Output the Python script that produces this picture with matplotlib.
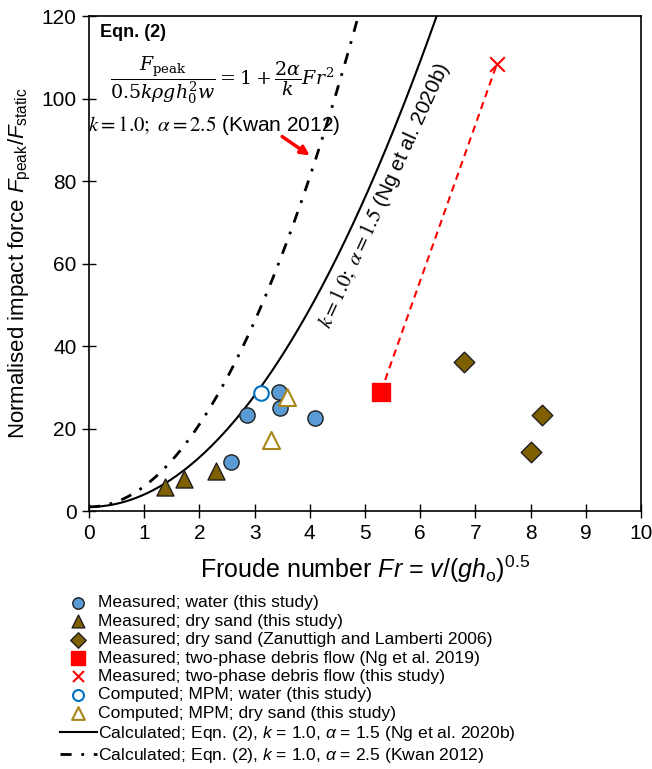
import numpy as np
import matplotlib
matplotlib.use('Agg')
import matplotlib.pyplot as plt
from matplotlib.lines import Line2D

plt.rcParams['font.family'] = ['Liberation Sans', 'DejaVu Sans']
plt.rcParams['mathtext.fontset'] = 'custom'
plt.rcParams['mathtext.rm'] = 'Liberation Sans'
plt.rcParams['mathtext.it'] = 'Liberation Sans:italic'
plt.rcParams['mathtext.bf'] = 'Liberation Sans:bold'

# measured; water (this study)
fr_water = [2.57, 2.87, 3.44, 3.46, 4.09]
f_water = [11.9, 23.4, 28.8, 25.0, 22.6]

# measured; dry sand (this study)
fr_sand = [1.37, 1.73, 2.30]
f_sand = [5.8, 7.8, 9.8]

# measured; dry sand (Zanuttigh and Lamberti 2006)
fr_zl = [6.80, 8.21, 8.01]
f_zl = [36.2, 23.3, 14.3]

# measured; two-phase debris flow
fr_ng2019 = [5.29]
f_ng2019 = [28.9]
fr_debris = [7.39]
f_debris = [108.4]

# computed; MPM
fr_mpm_water = [3.12]
f_mpm_water = [28.7]
fr_mpm_sand = [3.29, 3.58]
f_mpm_sand = [17.2, 27.6]

# Eqn. (2) parameters
k_val = 1.0
alpha_ng = 1.5
alpha_kwan = 2.5

def eqn2(fr, k, alpha):
    return 1 + 2 * alpha / k * fr**2

fr = np.linspace(0, 7, 400)
dashdot = (0, (4, 3.5, 1, 3.5))

fig = plt.figure(figsize=(6.52, 7.69), dpi=100)
ax = fig.add_axes([0.1365, 0.3355, 0.8465, 0.6435])

brown = '#7F6000'
blue = '#5B9BD5'
edge = '#1F1F1F'

l_ng, = ax.plot(fr, eqn2(fr, k_val, alpha_ng), color='black', lw=1.5)
l_kwan, = ax.plot(fr, eqn2(fr, k_val, alpha_kwan), color='black', lw=2.0,
                  linestyle=dashdot)

# debris flow: Ng et al. 2019 to this study
ax.plot([fr_ng2019[0], fr_debris[0]], [f_ng2019[0], f_debris[0]],
        color='red', lw=1.5, linestyle=(0, (3.5, 2.5)), zorder=2)

s_water = ax.scatter(fr_water, f_water, s=120, marker='o', facecolor=blue,
                     edgecolor=edge, linewidth=1.0, zorder=4)
s_sand = ax.scatter(fr_sand, f_sand, s=150, marker='^', facecolor=brown,
                    edgecolor=edge, linewidth=1.0, zorder=4)
s_zl = ax.scatter(fr_zl, f_zl, s=110, marker='D', facecolor=brown,
                  edgecolor=edge, linewidth=1.0, zorder=4)
s_ng = ax.scatter(fr_ng2019, f_ng2019, s=170, marker='s', facecolor='red',
                  edgecolor='red', zorder=4)
s_deb = ax.scatter(fr_debris, f_debris, s=110, marker='x', color='red',
                   linewidth=1.5, zorder=4)
s_mw = ax.scatter(fr_mpm_water, f_mpm_water, s=110, marker='o',
                  facecolor='white', edgecolor='#0070C0', linewidth=1.5, zorder=4)
s_ms = ax.scatter(fr_mpm_sand, f_mpm_sand, s=150, marker='^',
                  facecolor='white', edgecolor='#A8861A', linewidth=1.5, zorder=4)

ax.set_xlim(0, 10)
ax.set_ylim(0, 120)
ax.set_xticks(range(0, 11))
ax.set_yticks(range(0, 121, 20))
ax.tick_params(direction='inout', length=10, width=1, labelsize=15, pad=4)
for sp in ax.spines.values():
    sp.set_linewidth(1.2)

ax.set_xlabel(r'Froude number $Fr$ = $v/(gh_{\mathrm{o}})^{0.5}$', fontsize=18, labelpad=8)
ax.set_ylabel(r'Normalised impact force $F_{\mathrm{peak}}/F_{\mathrm{static}}$',
              fontsize=16, labelpad=6)

# annotations
ax.text(0.2, 116, 'Eqn. (2)', fontsize=13, fontweight='bold', va='center')
ax.text(0.38, 104.5,
        r'$\dfrac{F_{\mathrm{peak}}}{0.5k\rho g h_0^2 w} = 1 + \dfrac{2\alpha}{k}Fr^2$',
        fontsize=13.7, va='center', math_fontfamily='dejavuserif')
ax.text(-0.02, 93.5, r'$k = 1.0;\ \alpha = 2.5$ (Kwan 2012)', fontsize=15,
        va='center', math_fontfamily='stix')
ax.annotate('', xy=(4.0, 86.2), xytext=(3.5, 90.8),
            arrowprops=dict(arrowstyle='-|>', color='red', lw=2.5,
                            mutation_scale=13, shrinkA=0, shrinkB=0))
ax.text(5.36, 76.5, r'$k = 1.0;\ \alpha = 1.5$ (Ng et al. 2020b)', fontsize=15,
        rotation=65.5, ha='center', va='center', rotation_mode='anchor',
        math_fontfamily='stix')

handles = [s_water, s_sand, s_zl, s_ng, s_deb, s_mw, s_ms, l_ng,
           Line2D([], [], color='black', lw=2.0, linestyle=dashdot)]
labels = ['Measured; water (this study)',
          'Measured; dry sand (this study)',
          'Measured; dry sand (Zanuttigh and Lamberti 2006)',
          'Measured; two-phase debris flow (Ng et al. 2019)',
          'Measured; two-phase debris flow (this study)',
          'Computed; MPM; water (this study)',
          'Computed; MPM; dry sand (this study)',
          r'Calculated; Eqn. (2), $k$ = 1.0, $\alpha$ = 1.5 (Ng et al. 2020b)',
          r'Calculated; Eqn. (2), $k$ = 1.0, $\alpha$ = 2.5 (Kwan 2012)']
leg = fig.legend(handles, labels, loc='upper left', bbox_to_anchor=(0.092, 0.226),
                 frameon=False, fontsize=12.6, handlelength=2.1, handletextpad=0.05,
                 labelspacing=0.18, markerscale=0.75, borderpad=0, borderaxespad=0)

fig.savefig('out.png', dpi=100)
